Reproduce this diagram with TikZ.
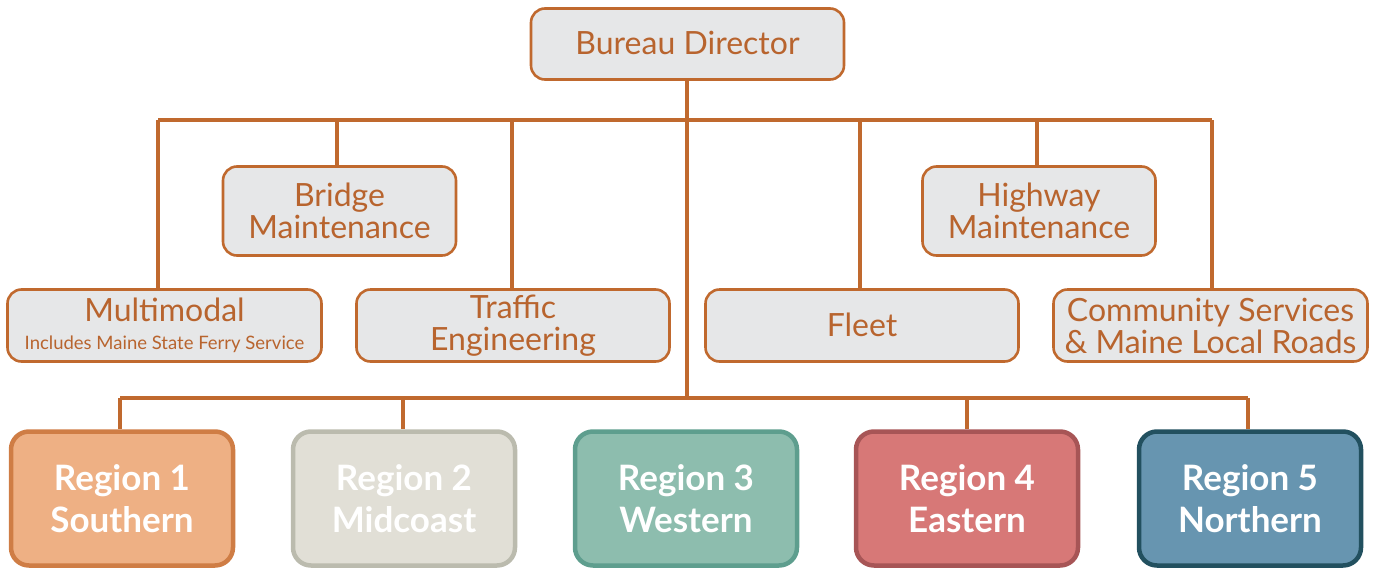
\documentclass[tikz,border=0pt]{standalone}
\usepackage{fontspec}
\setmainfont{Lato}
\definecolor{org}{HTML}{C0692E}
\definecolor{orgtxt}{HTML}{B8642E}
\definecolor{boxfill}{HTML}{E6E7E8}
\definecolor{ronef}{HTML}{EEB084}\definecolor{roned}{HTML}{CF7D45}
\definecolor{rtwof}{HTML}{E1DFD6}\definecolor{rtwod}{HTML}{BBBBAE}
\definecolor{rthreef}{HTML}{8DBDAE}\definecolor{rthreed}{HTML}{5E9E8E}
\definecolor{rfourf}{HTML}{D77877}\definecolor{rfourd}{HTML}{A75556}
\definecolor{rfivef}{HTML}{6795B0}\definecolor{rfived}{HTML}{22505F}
\begin{document}
\begin{tikzpicture}[x=1pt,y=-1pt,
  unit/.style={draw=org,line width=2.6pt,fill=boxfill,rounded corners=14pt,
    text=orgtxt,font=\fontsize{32}{32}\selectfont,align=center,inner sep=0pt},
  region/.style={line width=4.5pt,rounded corners=18pt,text=white,
    font=\fontsize{35}{42}\selectfont\bfseries,align=center,inner sep=0pt,
    minimum width=222pt,minimum height=134pt},
  conn/.style={draw=org,line width=4pt}]
\useasboundingbox (0,0) rectangle (1373,568);
% top
\node[unit,minimum width=313pt,minimum height=71pt] (dir) at (687.5,44) {\raisebox{3pt}{Bureau Director}};
\node[unit,minimum width=233pt,minimum height=89pt] (bridge) at (339.5,211) {Bridge\\Maintenance};
\node[unit,minimum width=233pt,minimum height=89pt] (hwy) at (1039,211) {Highway\\Maintenance};
\node[unit,minimum width=314pt,minimum height=72pt] (multi) at (164.5,325.5) {Multimodal\\[-4pt]{\fontsize{18.5}{20}\selectfont Includes Maine State Ferry Service}};
\node[unit,minimum width=313pt,minimum height=72pt] (traffic) at (513,325.5) {Traffic\\Engineering};
\node[unit,minimum width=313pt,minimum height=72pt] (fleet) at (862,325.5) {\raisebox{2pt}{Fleet}};
\node[unit,minimum width=314pt,minimum height=72pt] (comm) at (1210.5,325.5) {Community Services\\\& Maine Local Roads};
% regions
\node[region,draw=roned,fill=ronef] (r1) at (122,498.5) {Region 1\\Southern};
\node[region,draw=rtwod,fill=rtwof] (r2) at (404,498.5) {Region 2\\Midcoast};
\node[region,draw=rthreed,fill=rthreef] (r3) at (686,498.5) {Region 3\\Western};
\node[region,draw=rfourd,fill=rfourf] (r4) at (967,498.5) {Region 4\\Eastern};
\node[region,draw=rfived,fill=rfivef] (r5) at (1250,498.5) {Region 5\\Northern};
% bus coordinates
\coordinate (bl) at (158,120);
\coordinate (br) at (1212,120);
\coordinate (tj) at (687,120);
\coordinate (lj) at (687,398);
\coordinate (lbl) at (120,398);
\coordinate (lbr) at (1248,398);
\draw[conn] (bl) -- (br);
\draw[conn] (dir.south -| tj) -- (lj);
\draw[conn] (lbl) -- (lbr);
\draw[conn] (bl) -- (bl |- multi.north);
\draw[conn] (337,120) -- (337,120 |- bridge.north);
\draw[conn] (512,120) -- (512,120 |- traffic.north);
\draw[conn] (860,120) -- (860,120 |- fleet.north);
\draw[conn] (1037,120) -- (1037,120 |- hwy.north);
\draw[conn] (br) -- (br |- comm.north);
\draw[conn] (lbl) -- (lbl |- r1.north);
\draw[conn] (403,398) -- (403,398 |- r2.north);
\draw[conn] (967,398) -- (967,398 |- r4.north);
\draw[conn] (lbr) -- (lbr |- r5.north);
\end{tikzpicture}
\end{document}
